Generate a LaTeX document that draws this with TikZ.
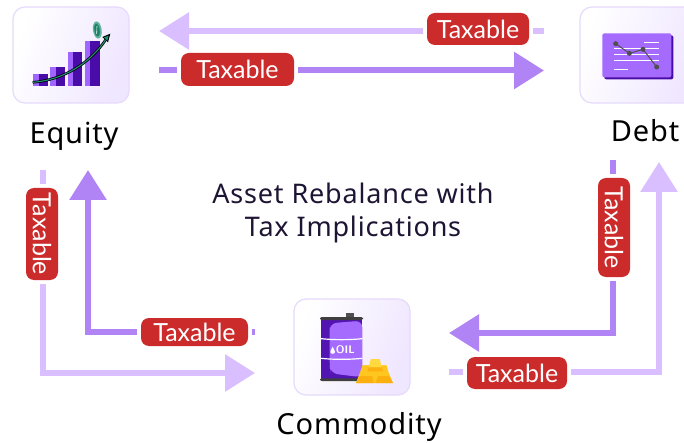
\documentclass[tikz,border=0pt]{standalone}
\usepackage{fontspec}
\setmainfont{Noto Sans}
\newfontfamily\labelfont{Lato}
\usetikzlibrary{arrows.meta}
\definecolor{lightarrow}{HTML}{D9BFFF}
\definecolor{darkarrow}{HTML}{B084F5}
\definecolor{labelred}{HTML}{CC2B2B}
\definecolor{ink}{HTML}{1E1433}
\definecolor{boxline}{HTML}{E6DAFD}
\definecolor{boxend}{HTML}{EFE6FF}
\definecolor{barlight}{HTML}{A066FF}
\definecolor{bardark}{HTML}{4A0CA8}
\definecolor{midpurple}{HTML}{A56BFF}
\definecolor{greyline}{HTML}{4F4F4F}
\definecolor{tealc}{HTML}{1E8F73}
\definecolor{goldb}{HTML}{FFC61F}
\definecolor{golda}{HTML}{FFD93D}
\definecolor{goldc}{HTML}{FBB00F}
\tikzset{
  assetbox/.style={rectangle,rounded corners=12pt,draw=boxline,line width=1.2pt,
    left color=white,right color=boxend,shading angle=70,
    minimum width=116pt,minimum height=96pt,inner sep=0pt},
  taxtag/.style={rectangle,rounded corners=8pt,fill=labelred,text=white,inner sep=0pt,
    outer sep=4pt,font=\labelfont\fontsize{25}{28}\selectfont},
  lightflow/.style={draw=lightarrow,line width=6pt},
  darkflow/.style={draw=darkarrow,line width=6pt},
  lighthead/.style={lightflow,-{Triangle[length=30pt,width=36pt,fill=lightarrow]}},
  darkhead/.style={darkflow,-{Triangle[length=30pt,width=36pt,fill=darkarrow]}},
  assetname/.style={text=black,inner sep=0pt,outer sep=0pt,font=\fontsize{29}{32}\selectfont\addfontfeatures{LetterSpace=3}},
  titletext/.style={text=ink,align=center,font=\fontsize{27}{33}\selectfont\addfontfeatures{LetterSpace=3}},
  zoomed/.style={x=0.33333pt,y=-0.33333pt}
}
\newcommand{\taxword}{\raisebox{-1.5pt}{Taxable}}
\begin{document}
\begin{tikzpicture}[x=1pt,y=-1pt]
\clip (0,0) rectangle (684,443);
\fill[white] (0,0) rectangle (684,443);

% boxes
\node[assetbox] (equity) at (71,55) {};
\node[assetbox] (debt) at (638,55) {};
\node[assetbox] (commodity) at (352,347) {};

% equity icon
\begin{scope}[shift={(0,0)},zoomed]
  \fill[barlight] (99,222) rectangle (117,257);
  \fill[bardark] (117,222) rectangle (143,257);
  \fill[barlight] (151,200) rectangle (168,257);
  \fill[bardark] (168,200) rectangle (195,257);
  \fill[barlight] (204,156) rectangle (218,257);
  \fill[bardark] (218,156) rectangle (247,257);
  \fill[barlight] (255,122) rectangle (270,257);
  \fill[bardark] (270,122) rectangle (300,257);
  \draw[black,line width=2.6pt] (98,247) .. controls (190,240) and (270,190) .. (318,118);
  \draw[tealc,line width=1.1pt] (98,247) .. controls (190,240) and (270,190) .. (318,118);
  \fill[black] (331,101) -- (307,111) -- (324,127) -- cycle;
  \fill[tealc] (326,107) -- (312,112) -- (322,122) -- cycle;
  \fill[tealc!70!white,rotate around={8:(292,90)}] (292,90) ellipse (13 and 26);
  \fill[tealc!90!black,rotate around={8:(292,90)}] (291,90) ellipse (8 and 20);
  \draw[white,line width=0.6pt] (291,78) -- (290,102);
\end{scope}

% debt icon
\begin{scope}[shift={(560,0)},zoomed]
  \fill[bardark,rounded corners=2pt] (133,106) rectangle (340,238);
  \fill[midpurple,rounded corners=2pt] (127,100) rectangle (334,232);
  \draw[white,line width=1pt] (253,128) -- (297,128)
    (162,147) -- (297,147) (162,165) -- (297,165) (162,183) -- (297,183) (162,210) -- (205,210);
  \draw[greyline,line width=1pt] (167,131) -- (208,160) -- (249,148) -- (290,201);
  \foreach \px/\py in {167/131,208/160,249/148,290/201}
    \fill[greyline] (\px,\py) circle (7.5);
\end{scope}

% commodity icon
\begin{scope}[shift={(270,290)},zoomed]
  \fill[greyline] (228,70) rectangle (252,80);
  \fill[bardark!90!barlight] (153,86) rectangle (277,268);
  \fill[midpurple,rounded corners=7pt] (179,130) -- (179,100) -- (277,92) -- (277,262) -- (182,250) -- (179,230) -- cycle;
  \fill[greyline!80!black,rounded corners=2pt] (150,81) rectangle (279,90);
  \fill[greyline!80!black,rounded corners=2pt] (150,265) rectangle (279,273);
  \draw[white,line width=1.2pt] (153,146) .. controls (190,150) and (240,150) .. (277,146);
  \draw[white,line width=1.2pt] (153,205) .. controls (190,209) and (240,209) .. (277,205);
  \node[text=white,font=\sffamily\bfseries\fontsize{11}{12}\selectfont,inner sep=0pt] (oiltext) at (226,180) {OIL};
  \fill[white] (188,170) .. controls (183,180) and (181,184) .. (181,186) .. controls (181,193) and (195,193) .. (195,186) .. controls (195,184) and (193,180) .. (188,170) -- cycle;
  % gold pile
  \fill[goldb] (278,226) -- (346,226) -- (369,279) -- (258,279) -- cycle;
  \fill[goldc] (258,279) -- (270,258) -- (306,258) -- (312,279) -- cycle;
  \fill[goldc] (316,279) -- (325,258) -- (358,258) -- (369,279) -- cycle;
  \fill[goldb] (278,226) -- (298,226) -- (302,258) -- (270,258) -- cycle;
  \fill[goldb] (334,226) -- (350,226) -- (358,258) -- (325,258) -- cycle;
  \fill[golda] (302,207) -- (329,207) -- (335,232) -- (296,232) -- cycle;
  \fill[goldc] (296,232) -- (335,232) -- (340,244) -- (292,244) -- cycle;
\end{scope}

% labels of assets and title
\node[assetname] (equityname) at (74,136) {Equity};
\node[assetname] (debtname) at (645,131) {Debt};
\node[assetname] (commodityname) at (359,427) {Commodity};
\node[titletext] (title) at (353,213) {Asset Rebalance with\\Tax Implications};

% taxable tags
\node[taxtag,minimum width=102pt,minimum height=32pt] (tagtop) at (478,29) {\taxword};
\node[taxtag,minimum width=113pt,minimum height=33pt] (tagsecond) at (237.5,69.5) {\taxword};
\node[taxtag,minimum width=92pt,minimum height=32pt,rotate=-90] (tagleft) at (42,234) {\taxword};
\node[taxtag,minimum width=107pt,minimum height=28pt] (tagcommodity) at (194.5,332) {\taxword};
\node[taxtag,minimum width=99pt,minimum height=32pt,rotate=-90] (tagright) at (614,227.5) {\taxword};
\node[taxtag,minimum width=100pt,minimum height=32pt] (tagbottom) at (517,373) {\taxword};

% free ends
\coordinate (a1) at (544,31);
\coordinate (a2) at (159,31);
\coordinate (b1) at (159,70.5);
\coordinate (b2) at (544,70.5);
\coordinate (c1) at (43,170);
\coordinate (c2) at (43,373);
\coordinate (c3) at (255,373);
\coordinate (d1) at (255,332);
\coordinate (d2) at (88,332);
\coordinate (d3) at (88,170);
\coordinate (e1) at (613,160);
\coordinate (e2) at (613,333);
\coordinate (e3) at (449,333);
\coordinate (f1) at (449,372);
\coordinate (f2) at (659,372);
\coordinate (f3) at (659,162);

% connectors
\draw[lightflow] (a1) -- (tagtop.east |- a1);
\draw[lighthead] (tagtop.west |- a2) -- (a2);
\draw[darkflow] (b1) -- (tagsecond.west |- b1);
\draw[darkhead] (tagsecond.east |- b2) -- (b2);
\draw[lightflow] (c1) -- (c1 |- tagleft.west);
\draw[lighthead,line join=miter] (c1 |- tagleft.east) -- (c2) -- (c3);
\draw[darkflow] (d1) -- (tagcommodity.east |- d1);
\draw[darkhead,line join=miter] (tagcommodity.west |- d2) -- (d2) -- (d3);
\draw[darkflow] (e1) -- (e1 |- tagright.west);
\draw[darkhead,line join=miter] (e1 |- tagright.east) -- (e2) -- (e3);
\draw[lightflow] (f1) -- (tagbottom.west |- f1);
\draw[lighthead,line join=miter] (tagbottom.east |- f2) -- (f2) -- (f3);
\end{tikzpicture}
\end{document}
